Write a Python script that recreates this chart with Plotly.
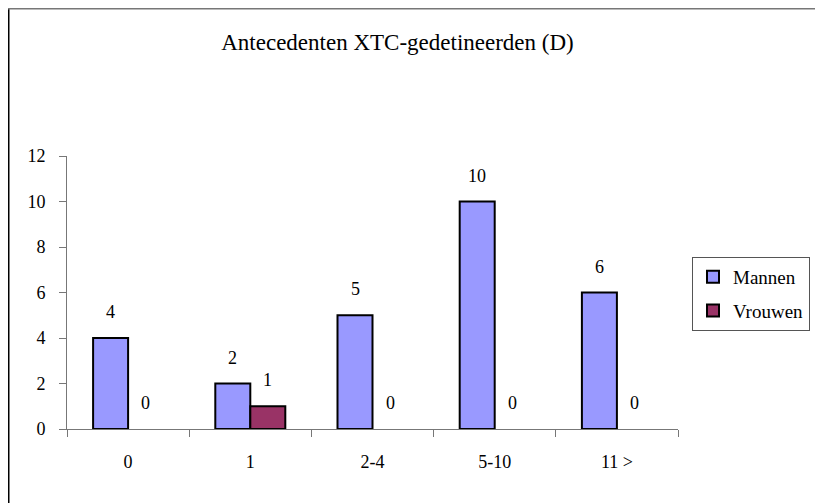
import plotly.graph_objects as go

categories = ["0", "1", "2-4", "5-10", "11 >"]
mannen = [4, 2, 5, 10, 6]
vrouwen = [0, 1, 0, 0, 0]
series_names = ["Mannen", "Vrouwen"]
title_text = "Antecedenten XTC-gedetineerden (D)"
y_ticks = [0, 2, 4, 6, 8, 10, 12]

FONT = "Liberation Serif, Times New Roman, serif"
BW = 0.2864

def bar_vals(vals):
    # zero-height bars are not drawn (no outline on the axis), labels still shown
    return [v if v != 0 else None for v in vals]

fig = go.Figure()
fig.add_trace(go.Bar(
    x=categories, y=bar_vals(mannen), name=series_names[0],
    marker=dict(color="#9999FF", line=dict(color="black", width=2)),
    width=BW, offset=-BW, legendgroup="m",
))
fig.add_trace(go.Bar(
    x=categories, y=bar_vals(vrouwen), name=series_names[1],
    marker=dict(color="#993366", line=dict(color="black", width=2)),
    width=BW, offset=0, legendgroup="v",
))

annotations = []
for i, v in enumerate(mannen):
    annotations.append(dict(x=i - BW / 2, y=v, xref="x", yref="y", text=str(v),
                            showarrow=False, yshift=26, yanchor="middle",
                            font=dict(family=FONT, size=18, color="black")))
for i, v in enumerate(vrouwen):
    annotations.append(dict(x=i + BW / 2, y=v, xref="x", yref="y", text=str(v),
                            showarrow=False, yshift=26, yanchor="middle",
                            font=dict(family=FONT, size=18, color="black")))

# page is offset by the browser's 8px body margin
OFF = 8
L, R, T, B = 67 - OFF, 678 - OFF, 156 - OFF, 429 - OFF
W, H = 823, 503
pw, ph = R - L, B - T

def px(x):
    return (x - OFF - L) / pw

def py(y):
    return (B - (y - OFF)) / ph

shapes = [
    dict(type="line", xref="paper", yref="paper", x0=px(8.5), x1=px(8.5), y0=py(8.5), y1=py(520),
         line=dict(color="black", width=2)),
    dict(type="line", xref="paper", yref="paper", x0=px(8), x1=px(840), y0=py(8.5), y1=py(8.5),
         line=dict(color="#777777", width=2)),
]

fig.update_layout(
    width=W, height=H,
    margin=dict(l=L, r=W - R, t=T, b=H - B),
    paper_bgcolor="white", plot_bgcolor="white",
    font=dict(family=FONT, size=18, color="black"),
    title=dict(text=title_text, x=(397.5 - OFF) / W, xref="container", xanchor="center",
               y=1 - (42 - OFF) / H, yref="container", yanchor="middle",
               font=dict(family=FONT, size=23, color="black")),
    showlegend=True,
    legend=dict(x=px(692), y=py(257), xanchor="left", yanchor="top",
                bordercolor="#555555", borderwidth=1, bgcolor="white",
                font=dict(family=FONT, size=19, color="black"),
                tracegroupgap=6, traceorder="grouped"),
    annotations=annotations,
    shapes=shapes,
    bargap=0.43,
)
fig.update_xaxes(
    type="category", showline=True, linecolor="#777777", linewidth=1,
    ticks="outside", tickson="boundaries", ticklen=7, tickcolor="#777777",
    showgrid=False, ticklabelstandoff=16,
    tickfont=dict(family=FONT, size=18, color="black"),
)
fig.update_yaxes(
    range=[0, 12], tickvals=y_ticks, showline=True, linecolor="#777777", linewidth=1,
    ticks="outside", ticklen=7, tickcolor="#777777", showgrid=False, zeroline=False,
    ticklabelstandoff=10,
    tickfont=dict(family=FONT, size=18, color="black"),
)

fig.write_html("out.html")
